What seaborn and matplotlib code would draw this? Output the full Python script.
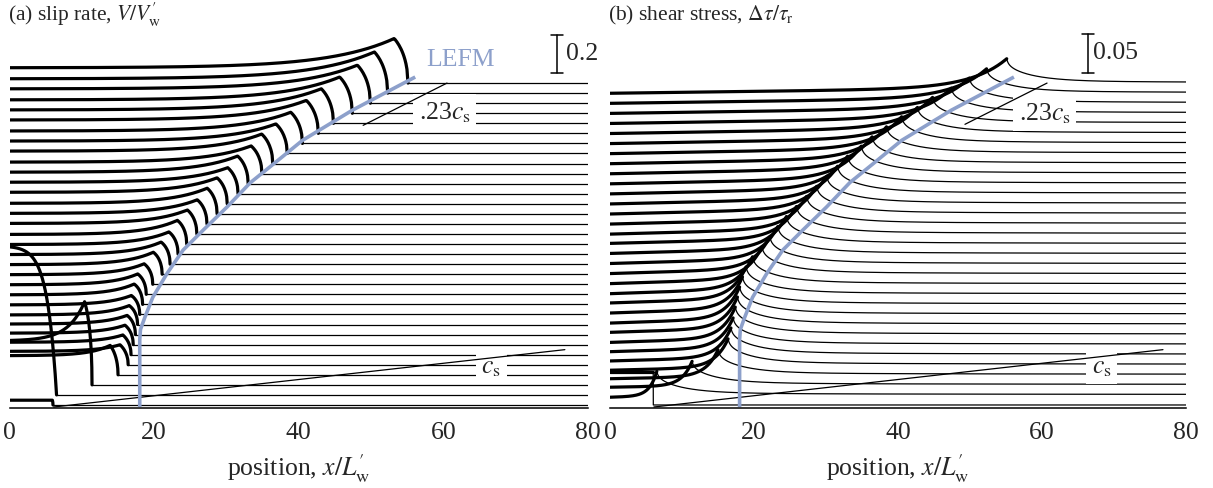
import numpy as np
import pandas as pd
import matplotlib
matplotlib.use("Agg")
import matplotlib.pyplot as plt
import seaborn as sns

# ==========================================
# DATA, earliest snapshot first
# ==========================================

# rupture front position of each snapshot, x/L'_w
front = [6.0, 6.5, 11.4, 15.0, 16.4, 16.8, 17.1, 17.4, 17.7, 18.0, 18.4,
         18.9, 19.8, 21.1, 22.2, 23.3, 24.5, 25.9, 27.3, 28.7, 30.1, 31.6,
         33.0, 34.9, 36.4, 38.4, 40.5, 42.7, 44.8, 47.4, 49.9, 52.3, 55.1]

# slip rate V/V'_w behind the front (at x=0) and near the front
v_back = [0.025, 0.78, 0.23, 0.10, 0.07, 0.065, 0.06, 0.055, 0.05, 0.05, 0.05,
          0.05, 0.05, 0.05, 0.05, 0.05, 0.05, 0.055, 0.055, 0.055, 0.06, 0.06,
          0.06, 0.06, 0.065, 0.065, 0.065, 0.07, 0.07, 0.07, 0.075, 0.075, 0.08]
v_peak = [0.025, 0.0, 0.55, 0.18, 0.12, 0.12, 0.12, 0.12, 0.12, 0.12, 0.13,
          0.13, 0.13, 0.14, 0.14, 0.14, 0.15, 0.15, 0.15, 0.16, 0.16, 0.16,
          0.17, 0.17, 0.18, 0.18, 0.19, 0.20, 0.21, 0.22, 0.23, 0.25, 0.27]

# shear stress change behind the front and peak at the front
s_back = [0.042, -0.003, -0.003, -0.005, -0.007, -0.008, -0.009, -0.010, -0.010,
          -0.011, -0.011, -0.011, -0.012, -0.012, -0.012, -0.012, -0.012, -0.012,
          -0.013, -0.013, -0.013, -0.013, -0.013, -0.013, -0.013, -0.013, -0.013,
          -0.013, -0.013, -0.013, -0.013, -0.013, -0.013]
s_peak = [0.042, 0.030, 0.030, 0.032, 0.033, 0.034, 0.034, 0.035, 0.035, 0.035,
          0.035, 0.035, 0.035, 0.035, 0.035, 0.035, 0.035, 0.035, 0.035, 0.035,
          0.035, 0.035, 0.035, 0.035, 0.034, 0.034, 0.034, 0.033, 0.033, 0.032,
          0.032, 0.031, 0.031]
s_tail = [0] + [1] * 32

# LEFM prediction of the front (x, snapshot number)
lefm_x = [18.0, 18.0, 18.1, 18.7, 19.8, 21.8, 24.0, 26.8, 30.1, 33.3, 36.4, 40.5, 47.4, 56.1]
lefm_t = [-0.2, 6.5, 7.5, 8.7, 10.7, 13.1, 15.4, 17.4, 19.7, 22.1, 23.9, 26.3, 29.3, 32.6]

# reference wave-speed lines (x, snapshot number)
cs_line = [(6.1, -0.2), (76.8, 5.5)]
cs23_line_a = [(48.9, 27.8), (60.5, 32.0)]
cs23_line_b = [(49.3, 27.9), (60.7, 32.0)]

xticks = [0, 20, 40, 60, 80]
dv = 0.2 / 3.8     # trace offset in V/V'_w
ds = 0.05 / 3.9    # trace offset in dtau/tau_r

BLUE = "#8da0cb"


def slip_profile(i):
    xf = front[i]
    w = 0.15 * xf + 0.6 if i > 1 else 1.3
    d = 0.8 + 0.02 * xf if i > 1 else 0.08
    x = np.linspace(0, xf, 400)
    dx = xf - x
    v = (v_back[i] + (v_peak[i] - v_back[i]) * np.exp(-dx / w)) * np.sqrt(np.clip(dx / d, 0, 1))
    return x, v


def stress_profile(i):
    xf = front[i]
    sb, sp = s_back[i], s_peak[i]
    ramp = -0.5 * min(sb, 0)
    wb = 0.08 * xf + 0.5
    x_in = np.linspace(0, xf, 400)
    s_in = sb + ramp * x_in / xf + (sp - sb - ramp) * np.exp(-(xf - x_in) / wb)
    dx = np.concatenate([[0], np.geomspace(1e-3, 80 - xf, 400)])
    r0, L = 0.2, 4.0
    s_out = sp * (0.5 * np.sqrt(r0 / (r0 + dx)) + 0.5 * np.exp(-dx / L)) * s_tail[i]
    s_out[0] = sp
    return x_in, s_in, xf + dx, s_out


rows = []
for i in range(len(front)):
    x, v = slip_profile(i)
    rows.append(pd.DataFrame({"panel": "a", "part": "thick", "trace": i, "x": x, "y": i * dv + v}))
    xo = np.array([front[i], 80.0])
    rows.append(pd.DataFrame({"panel": "a", "part": "thin", "trace": i, "x": xo, "y": i * dv + 0 * xo}))
    xi, si, xo, so = stress_profile(i)
    rows.append(pd.DataFrame({"panel": "b", "part": "thick", "trace": i, "x": xi, "y": i * ds + si}))
    rows.append(pd.DataFrame({"panel": "b", "part": "thin", "trace": i, "x": xo, "y": i * ds + so}))
df = pd.concat(rows, ignore_index=True)

sns.set_theme(style="white")
plt.rcParams["font.family"] = ["Liberation Serif", "DejaVu Serif"]
plt.rcParams["mathtext.fontset"] = "stix"
FS = 18.5      # ticks, axis labels, annotations
FT = 15.5      # panel titles

fig = plt.figure(figsize=(12.13, 4.88), dpi=100)
W, H = 1213.0, 488.0
ax_a = fig.add_axes([9.6 / W, 1 - 408 / H, (588 - 9.6) / W, 388 / H])
ax_b = fig.add_axes([610 / W, 1 - 408 / H, 576 / W, 388 / H])

for ax, key, unit in [(ax_a, "a", dv), (ax_b, "b", ds)]:
    sub = df[df.panel == key]
    sns.lineplot(data=sub[sub.part == "thin"], x="x", y="y", units="trace", estimator=None,
                 sort=False, color="black", lw=0.9, ax=ax, zorder=2)
    sns.lineplot(data=sub[sub.part == "thick"], x="x", y="y", units="trace", estimator=None,
                 sort=False, color="black", lw=2.3, ax=ax, zorder=2.5)
    ax.plot(lefm_x, [t * unit for t in lefm_t], color=BLUE, lw=2.6, zorder=5,
            solid_capstyle="butt")
    (x0, t0), (x1, t1) = cs_line
    ax.plot([x0, x1], [t0 * unit, t1 * unit], color="black", lw=0.9, zorder=4)
    line23 = cs23_line_a if key == "a" else cs23_line_b
    (x0, t0), (x1, t1) = line23
    ax.plot([x0, x1], [t0 * unit, t1 * unit], color="black", lw=0.9, zorder=4)

    ax.set_xlim(0, 80)
    ax.set_ylim(-0.3 * unit, 38.27 * unit)
    ax.set_xticks(xticks)
    ax.set_xticklabels([str(t) for t in xticks], fontsize=FS)
    ax.set_yticks([])
    ax.set_ylabel("")
    ax.set_xlabel("position, $x/L^{\\prime}_{\\mathrm{w}}$", fontsize=FS, labelpad=6)
    for s in ["left", "right", "top"]:
        ax.spines[s].set_visible(False)
    ax.spines["bottom"].set_color("black")
    ax.spines["bottom"].set_linewidth(1.1)
    ax.tick_params(axis="x", direction="out", length=7, width=1.1, color="black", pad=3)

box = dict(facecolor="white", edgecolor="none", pad=4)

# panel (a) annotations
ax_a.text(60.2, 29.1 * dv, ".23$c_{\\mathrm{s}}$", fontsize=FS, ha="center", va="center",
          bbox=box, zorder=3)
ax_a.text(66.6, 3.7 * dv, "$c_{\\mathrm{s}}$", fontsize=FS, ha="center", va="center",
          bbox=box, zorder=3)
ax_a.text(62.4, 34.3 * dv, "LEFM", fontsize=FS, color=BLUE, ha="center", va="center")
ax_a.plot([75.7, 75.7], [33.0 * dv, 33.0 * dv + 0.2], color="black", lw=1.1, clip_on=False)
for yy in [33.0 * dv, 33.0 * dv + 0.2]:
    ax_a.plot([74.9, 76.5], [yy, yy], color="black", lw=1.1, clip_on=False)
ax_a.text(77.0, 33.0 * dv + 0.1, "0.2", fontsize=FS, ha="left", va="center")

# panel (b) annotations
ax_b.text(60.4, 29.0 * ds, ".23$c_{\\mathrm{s}}$", fontsize=FS, ha="center", va="center",
          bbox=box, zorder=3)
ax_b.text(68.3, 3.7 * ds, "$c_{\\mathrm{s}}$", fontsize=FS, ha="center", va="center",
          bbox=box, zorder=3)
ax_b.plot([66.4, 66.4], [33.0 * ds, 33.0 * ds + 0.05], color="black", lw=1.1, clip_on=False)
for yy in [33.0 * ds, 33.0 * ds + 0.05]:
    ax_b.plot([65.6, 67.2], [yy, yy], color="black", lw=1.1, clip_on=False)
ax_b.text(67.1, 33.0 * ds + 0.025, "0.05", fontsize=FS, ha="left", va="center")

fig.text(8 / W, 1 - 15 / H, "(a) slip rate, $V/V^{\\prime}_{\\mathrm{w}}$", fontsize=FT,
         ha="left", va="center")
fig.text(608 / W, 1 - 15 / H, "(b) shear stress, $\\Delta\\tau/\\tau_{\\mathrm{r}}$", fontsize=FT,
         ha="left", va="center")

fig.savefig("out.png", dpi=100)
